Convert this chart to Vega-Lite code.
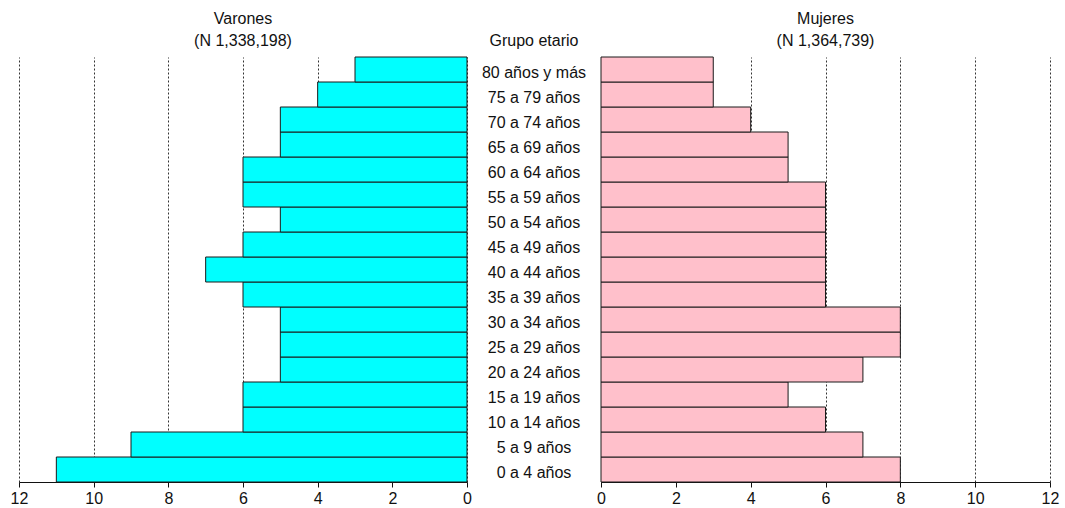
{
  "$schema": "https://vega.github.io/schema/vega-lite/v6.json",
  "background": "white",
  "padding": {"left": 10, "top": 10, "right": 6, "bottom": 20},
  "bounds": "flush",
  "spacing": 0,
  "config": {
    "font": "Liberation Sans",
    "view": {"stroke": null},
    "title": {"fontSize": 16, "fontWeight": "normal", "color": "#111", "lineHeight": 22, "offset": 8, "anchor": "middle"},
    "axis": {"labelFontSize": 16, "labelColor": "#111", "domainColor": "#111", "tickColor": "#111", "tickSize": 5, "labelPadding": 3, "labelFlush": false, "labelFont": "Liberation Sans", "titleFont": "Liberation Sans"},
    "text": {"font": "Liberation Sans"}
  },
  "data": {"values": [
    {"grupo": "0 a 4 años", "sexo": "Varones", "pct": 11},
    {"grupo": "5 a 9 años", "sexo": "Varones", "pct": 9},
    {"grupo": "10 a 14 años", "sexo": "Varones", "pct": 6},
    {"grupo": "15 a 19 años", "sexo": "Varones", "pct": 6},
    {"grupo": "20 a 24 años", "sexo": "Varones", "pct": 5},
    {"grupo": "25 a 29 años", "sexo": "Varones", "pct": 5},
    {"grupo": "30 a 34 años", "sexo": "Varones", "pct": 5},
    {"grupo": "35 a 39 años", "sexo": "Varones", "pct": 6},
    {"grupo": "40 a 44 años", "sexo": "Varones", "pct": 7},
    {"grupo": "45 a 49 años", "sexo": "Varones", "pct": 6},
    {"grupo": "50 a 54 años", "sexo": "Varones", "pct": 5},
    {"grupo": "55 a 59 años", "sexo": "Varones", "pct": 6},
    {"grupo": "60 a 64 años", "sexo": "Varones", "pct": 6},
    {"grupo": "65 a 69 años", "sexo": "Varones", "pct": 5},
    {"grupo": "70 a 74 años", "sexo": "Varones", "pct": 5},
    {"grupo": "75 a 79 años", "sexo": "Varones", "pct": 4},
    {"grupo": "80 años y más", "sexo": "Varones", "pct": 3},
    {"grupo": "0 a 4 años", "sexo": "Mujeres", "pct": 8},
    {"grupo": "5 a 9 años", "sexo": "Mujeres", "pct": 7},
    {"grupo": "10 a 14 años", "sexo": "Mujeres", "pct": 6},
    {"grupo": "15 a 19 años", "sexo": "Mujeres", "pct": 5},
    {"grupo": "20 a 24 años", "sexo": "Mujeres", "pct": 7},
    {"grupo": "25 a 29 años", "sexo": "Mujeres", "pct": 8},
    {"grupo": "30 a 34 años", "sexo": "Mujeres", "pct": 8},
    {"grupo": "35 a 39 años", "sexo": "Mujeres", "pct": 6},
    {"grupo": "40 a 44 años", "sexo": "Mujeres", "pct": 6},
    {"grupo": "45 a 49 años", "sexo": "Mujeres", "pct": 6},
    {"grupo": "50 a 54 años", "sexo": "Mujeres", "pct": 6},
    {"grupo": "55 a 59 años", "sexo": "Mujeres", "pct": 6},
    {"grupo": "60 a 64 años", "sexo": "Mujeres", "pct": 5},
    {"grupo": "65 a 69 años", "sexo": "Mujeres", "pct": 5},
    {"grupo": "70 a 74 años", "sexo": "Mujeres", "pct": 4},
    {"grupo": "75 a 79 años", "sexo": "Mujeres", "pct": 3},
    {"grupo": "80 años y más", "sexo": "Mujeres", "pct": 3}
  ]},
  "hconcat": [
    {
      "width": 448,
      "height": 425,
      "title": {"text": ["Varones", "(N 1,338,198)"]},
      "transform": [{"filter": "datum.sexo === 'Varones'"}],
      "mark": {"type": "bar", "fill": "#00FFFF", "stroke": "#1a1a1a", "strokeWidth": 1},
      "encoding": {
        "y": {
          "field": "grupo", "type": "nominal",
          "sort": ["80 años y más", "75 a 79 años", "70 a 74 años", "65 a 69 años", "60 a 64 años", "55 a 59 años", "50 a 54 años", "45 a 49 años", "40 a 44 años", "35 a 39 años", "30 a 34 años", "25 a 29 años", "20 a 24 años", "15 a 19 años", "10 a 14 años", "5 a 9 años", "0 a 4 años"],
          "scale": {"paddingInner": 0, "paddingOuter": 0},
          "axis": null
        },
        "x": {
          "field": "pct", "type": "quantitative",
          "scale": {"domain": [0, 12], "reverse": true, "nice": false},
          "axis": {"values": [0, 2, 4, 6, 8, 10, 12], "title": null, "grid": true, "gridDash": [2, 2], "gridColor": "#333", "gridWidth": 1}
        }
      }
    },
    {
      "width": 134,
      "height": 425,
      "title": {"text": "Grupo etario"},
      "transform": [{"filter": "datum.sexo === 'Varones'"}],
      "mark": {"type": "text", "fontSize": 16, "color": "#111", "align": "center", "baseline": "middle", "dy": 3},
      "encoding": {
        "y": {
          "field": "grupo", "type": "nominal",
          "sort": ["80 años y más", "75 a 79 años", "70 a 74 años", "65 a 69 años", "60 a 64 años", "55 a 59 años", "50 a 54 años", "45 a 49 años", "40 a 44 años", "35 a 39 años", "30 a 34 años", "25 a 29 años", "20 a 24 años", "15 a 19 años", "10 a 14 años", "5 a 9 años", "0 a 4 años"],
          "scale": {"paddingInner": 0, "paddingOuter": 0},
          "axis": null
        },
        "text": {"field": "grupo", "type": "nominal"}
      }
    },
    {
      "width": 449,
      "height": 425,
      "title": {"text": ["Mujeres", "(N 1,364,739)"]},
      "transform": [{"filter": "datum.sexo === 'Mujeres'"}],
      "mark": {"type": "bar", "fill": "#FFC0CB", "stroke": "#1a1a1a", "strokeWidth": 1},
      "encoding": {
        "y": {
          "field": "grupo", "type": "nominal",
          "sort": ["80 años y más", "75 a 79 años", "70 a 74 años", "65 a 69 años", "60 a 64 años", "55 a 59 años", "50 a 54 años", "45 a 49 años", "40 a 44 años", "35 a 39 años", "30 a 34 años", "25 a 29 años", "20 a 24 años", "15 a 19 años", "10 a 14 años", "5 a 9 años", "0 a 4 años"],
          "scale": {"paddingInner": 0, "paddingOuter": 0},
          "axis": null
        },
        "x": {
          "field": "pct", "type": "quantitative",
          "scale": {"domain": [0, 12], "nice": false},
          "axis": {"values": [0, 2, 4, 6, 8, 10, 12], "title": null, "grid": true, "gridDash": [2, 2], "gridColor": "#333", "gridWidth": 1}
        }
      }
    }
  ]
}
